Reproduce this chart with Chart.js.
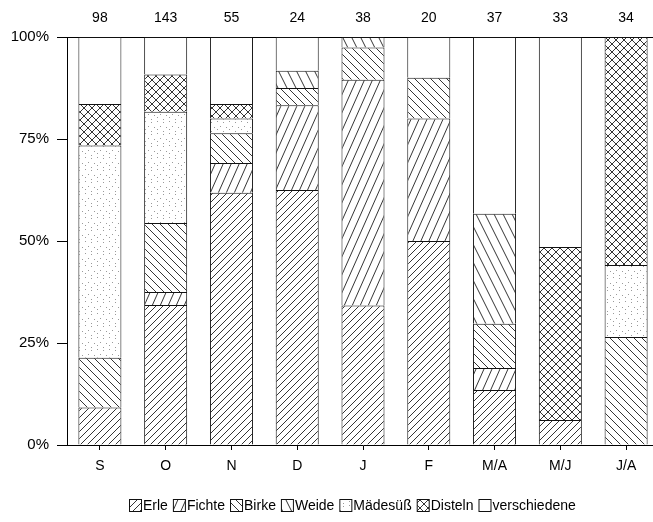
<!DOCTYPE html>
<html>
<head>
<meta charset="utf-8">
<script src="https://cdn.jsdelivr.net/npm/chart.js@4.4.1/dist/chart.umd.min.js"></script>
<style>
  html, body { margin: 0; padding: 0; background: #fff; overflow: hidden; }
  #wrap { width: 659px; height: 522px; }
</style>
</head>
<body>
<div id="wrap"><canvas id="c" width="659" height="522"></canvas></div>
<script>
// Months (September to July/August) and number of pollen loads per month
const months = ['S', 'O', 'N', 'D', 'J', 'F', 'M/A', 'M/J', 'J/A'];
const totals = [98, 143, 55, 24, 38, 20, 37, 33, 34];

// Share of each pollen type per month, in percent (stacked bottom to top)
const erle         = [9.2, 34.3, 61.8, 62.5, 34.2, 50.0, 13.5,  6.1,  0];
const fichte       = [0,    3.2,  7.3, 20.8, 55.3, 30.0,  5.4,  0,    0];
const birke        = [12.2, 16.9, 7.3,  4.2,  7.9, 10.0, 10.8,  0,   26.5];
const weide        = [0,    0,    0,    4.2,  2.6,  0,   27.0,  0,    0];
const maedesuess   = [52.0, 27.3, 3.6,  0,    0,    0,    0,    0,   17.6];
const disteln      = [10.2,  9.1, 3.6,  0,    0,    0,    0,   42.4, 55.9];
const verschiedene = [16.4,  9.2, 16.4, 8.3,  0,   10.0, 43.3, 51.5,  0];

const yTicks = [0, 25, 50, 75, 100];

const FONT = "'Liberation Sans', Arial, Helvetica, sans-serif";
Chart.defaults.font.family = FONT;
Chart.defaults.font.size = 14;
Chart.defaults.color = '#000';

// ---- fill patterns -------------------------------------------------------
const INK = '#1e1e1e';

function makeTile(w, h, paint) {
  const c = document.createElement('canvas');
  c.width = w; c.height = h;
  const g = c.getContext('2d');
  g.fillStyle = '#fff';
  g.fillRect(0, 0, w, h);
  g.strokeStyle = INK;
  g.lineWidth = 0.9;
  paint(g, w, h);
  return g.createPattern(c, 'repeat');
}

// rising (/) or falling (\) lines across a tile, repeated so the tile joins seamlessly
function lines(g, w, h, rising) {
  for (let k = -1; k <= 1; k++) {
    g.beginPath();
    if (rising) { g.moveTo(k * w, h); g.lineTo(k * w + w, 0); }
    else        { g.moveTo(k * w, 0); g.lineTo(k * w + w, h); }
    g.stroke();
  }
}

const patErle   = makeTile(7, 7,  (g, w, h) => lines(g, w, h, true));
const patFichte = makeTile(8, 18, (g, w, h) => lines(g, w, h, true));
const patBirke  = makeTile(8, 8,  (g, w, h) => lines(g, w, h, false));
const patWeide  = makeTile(9, 18, (g, w, h) => lines(g, w, h, false));
const patDist   = makeTile(8, 8,  (g, w, h) => { lines(g, w, h, true); lines(g, w, h, false); });
const patMaed   = makeTile(12, 12, (g) => {
  g.fillStyle = '#9a9a9a';
  [[1, 1], [7, 2], [4, 6], [10, 7], [1, 9], [7, 11]].forEach(([x, y]) => g.fillRect(x, y, 1, 1));
});

const segBorder = { top: 1, left: 1, right: 1, bottom: 0 };

function series(label, data, fill) {
  return {
    label, data,
    backgroundColor: fill,
    borderColor: '#111',
    borderWidth: segBorder,
    borderSkipped: false,
    barPercentage: 0.654,
    categoryPercentage: 1.0
  };
}

// Compact one-row legend under the axis: small patterned box, tight label
const compactLegend = {
  id: 'compactLegend',
  afterDraw(chart, args, opts) {
    const ctx = chart.ctx;
    const box = 12, gapText = 2, gapItem = 5;
    ctx.save();
    ctx.font = `14px ${FONT}`;
    ctx.textBaseline = 'middle';
    ctx.textAlign = 'left';
    const items = chart.data.datasets.map(ds => ({
      label: ds.label, fill: ds.backgroundColor, w: ctx.measureText(ds.label).width
    }));
    const total = items.reduce((s, it) => s + box + gapText + it.w, 0) + gapItem * (items.length - 1);
    let x = Math.round(opts.centerX - total / 2);
    const y = opts.centerY;
    items.forEach(it => {
      const top = Math.round(y - box / 2) + 0.5;
      ctx.fillStyle = it.fill;
      ctx.fillRect(x + 0.5, top, box, box);
      ctx.strokeStyle = '#111';
      ctx.lineWidth = 1;
      ctx.strokeRect(x + 0.5, top, box, box);
      ctx.fillStyle = '#000';
      ctx.fillText(it.label, x + box + gapText, y + 1);
      x += box + gapText + it.w + gapItem;
    });
    ctx.restore();
  }
};

new Chart(document.getElementById('c'), {
  type: 'bar',
  data: {
    labels: months,
    datasets: [
      series('Erle', erle, patErle),
      series('Fichte', fichte, patFichte),
      series('Birke', birke, patBirke),
      series('Weide', weide, patWeide),
      series('Mädesüß', maedesuess, patMaed),
      series('Disteln', disteln, patDist),
      series('verschiedene', verschiedene, '#fff')
    ]
  },
  plugins: [compactLegend],
  options: {
    responsive: false,
    animation: false,
    layout: { padding: { top: 0, right: 0, bottom: 39, left: 0 } },
    plugins: {
      tooltip: { enabled: false },
      legend: { display: false },
      compactLegend: { centerX: 352, centerY: 505 }
    },
    scales: {
      x: {
        stacked: true,
        offset: true,
        grid: { drawOnChartArea: false, offset: false, tickLength: 5, color: '#000', tickColor: '#000' },
        border: { display: true, color: '#000', width: 1 },
        ticks: { padding: 8, font: { size: 14 } },
        afterFit: s => { s.height = 38; }
      },
      xTop: {
        type: 'category',
        labels: totals.map(String),
        position: 'top',
        offset: true,
        grid: { display: false, drawTicks: false },
        border: { display: true, color: '#000', width: 1 },
        ticks: { padding: 10, font: { size: 14 } },
        afterFit: s => { s.height = 37; }
      },
      y: {
        stacked: true,
        min: 0,
        max: 100,
        afterBuildTicks: s => { s.ticks = yTicks.map(v => ({ value: v })); },
        grid: { drawOnChartArea: false, tickLength: 10, tickColor: '#000' },
        border: { display: true, color: '#000', width: 1 },
        ticks: { padding: 8, callback: v => v + '%', font: { size: 15 } },
        afterFit: s => { s.width = 67; }
      }
    }
  }
});
</script>
</body>
</html>
